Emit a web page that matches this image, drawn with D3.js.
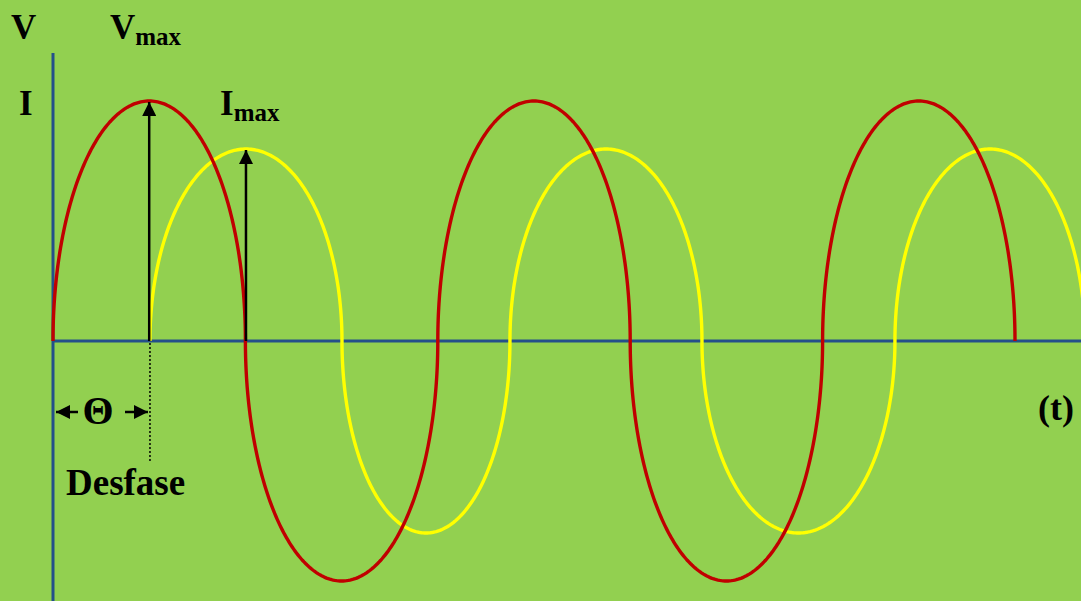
<!DOCTYPE html>
<html>
<head>
<meta charset="utf-8">
<script src="https://cdn.jsdelivr.net/npm/d3@7"></script>
<style>
  html, body { margin: 0; padding: 0; background: #92D050; overflow: hidden; }
  text { font-family: "Liberation Serif", "Times New Roman", serif; font-weight: bold; fill: #000; }
</style>
</head>
<body>
<svg id="chart"></svg>
<script>
// zero crossings of each wave (time in half periods of V)
const voltageCrossings = [0, 1, 2, 3, 4, 5];
const currentCrossings = [0.504, 1.502, 2.375, 3.373, 4.376, 5.364];
// peak values (V = 1, I smaller)
const voltageMax = 1;
const currentMax = 0.8;
// phase shift marker
const desfase = 0.504;
const timeDomain = [0, 5];
const valueDomain = [-1, 1];

const width = 1081, height = 601;
const svg = d3.select('#chart').attr('width', width).attr('height', height);

svg.append('rect').attr('width', width).attr('height', height).attr('fill', '#92D050');

const x = d3.scaleLinear().domain(timeDomain).range([53, 1015]);
const y = d3.scaleLinear().domain(valueDomain).range([581, 101]);

svg.append('clipPath').attr('id', 'clip')
  .append('rect').attr('x', 0).attr('y', 0).attr('width', width).attr('height', height);

const defs = svg.append('defs');
defs.append('marker')
  .attr('id', 'head')
  .attr('viewBox', '0 0 10 10')
  .attr('refX', 10).attr('refY', 5)
  .attr('markerWidth', 14).attr('markerHeight', 14)
  .attr('markerUnits', 'userSpaceOnUse')
  .attr('orient', 'auto')
  .append('path').attr('d', 'M0,0 L10,5 L0,10 Z').attr('fill', '#000');

// axes
svg.append('line')
  .attr('x1', x(0)).attr('x2', width)
  .attr('y1', y(0)).attr('y2', y(0))
  .attr('stroke', '#24508A').attr('stroke-width', 3);
svg.append('line')
  .attr('x1', x(0)).attr('x2', x(0))
  .attr('y1', 53).attr('y2', height)
  .attr('stroke', '#24508A').attr('stroke-width', 3);

// half waves: each half cycle is drawn as a half ellipse
function halves(crossings, amp) {
  let out = [];
  for (let i = 0; i < crossings.length - 1; i++) {
    out.push({ a: crossings[i], b: crossings[i + 1], amp: i % 2 === 0 ? amp : -amp });
  }
  return out;
}

const line = d3.line().x(d => x(d[0])).y(d => y(d[1]));

function halfPoints(h) {
  const mid = (h.a + h.b) / 2, r = (h.b - h.a) / 2;
  return d3.range(0, 181).map(k => {
    const ang = Math.PI - k * Math.PI / 180;
    return [mid + r * Math.cos(ang), h.amp * Math.sin(ang)];
  });
}

const g = svg.append('g').attr('clip-path', 'url(#clip)');

g.selectAll('path.current')
  .data(halves(currentCrossings, currentMax))
  .enter().append('path')
  .attr('class', 'current')
  .attr('d', d => line(halfPoints(d)))
  .attr('fill', 'none')
  .attr('stroke', '#FFFF00')
  .attr('stroke-width', 3.4);

g.selectAll('path.voltage')
  .data(halves(voltageCrossings, voltageMax))
  .enter().append('path')
  .attr('class', 'voltage')
  .attr('d', d => line(halfPoints(d)))
  .attr('fill', 'none')
  .attr('stroke', '#C00000')
  .attr('stroke-width', 3.4);

// max arrows
const vPeak = (voltageCrossings[0] + voltageCrossings[1]) / 2;
const iPeak = (currentCrossings[0] + currentCrossings[1]) / 2;
svg.append('line')
  .attr('x1', x(vPeak)).attr('x2', x(vPeak))
  .attr('y1', y(0)).attr('y2', y(voltageMax) + 1)
  .attr('stroke', '#000').attr('stroke-width', 2.5)
  .attr('marker-end', 'url(#head)');
svg.append('line')
  .attr('x1', x(iPeak)).attr('x2', x(iPeak))
  .attr('y1', y(0)).attr('y2', y(currentMax) + 1)
  .attr('stroke', '#000').attr('stroke-width', 2.5)
  .attr('marker-end', 'url(#head)');

// phase shift
svg.append('line')
  .attr('x1', x(desfase)).attr('x2', x(desfase))
  .attr('y1', y(0) + 2).attr('y2', 461)
  .attr('stroke', '#000').attr('stroke-width', 1.5)
  .attr('stroke-dasharray', '2,2');
svg.append('line')
  .attr('x1', 78).attr('x2', x(0) + 3)
  .attr('y1', 412).attr('y2', 412)
  .attr('stroke', '#000').attr('stroke-width', 2.5)
  .attr('marker-end', 'url(#head)');
svg.append('line')
  .attr('x1', 125).attr('x2', x(desfase) - 2)
  .attr('y1', 412).attr('y2', 412)
  .attr('stroke', '#000').attr('stroke-width', 2.5)
  .attr('marker-end', 'url(#head)');

// labels
svg.append('text').attr('x', 11).attr('y', 39).style('font-size', '35px').text('V');
const vmax = svg.append('text').attr('x', 110).attr('y', 39).style('font-size', '35px');
vmax.append('tspan').text('V');
vmax.append('tspan').style('font-size', '25px').attr('dy', 6).text('max');
svg.append('text').attr('x', 19).attr('y', 115).style('font-size', '35px').text('I');
const imax = svg.append('text').attr('x', 220).attr('y', 115).style('font-size', '35px');
imax.append('tspan').text('I');
imax.append('tspan').style('font-size', '25px').attr('dy', 6).text('max');
svg.append('text').attr('x', 98).attr('y', 424).attr('text-anchor', 'middle')
  .style('font-size', '40px').text('Θ');
svg.append('text').attr('x', 66).attr('y', 495).style('font-size', '37px').text('Desfase');
svg.append('text').attr('x', 1038).attr('y', 420).style('font-size', '36px').text('(t)');
</script>
</body>
</html>
